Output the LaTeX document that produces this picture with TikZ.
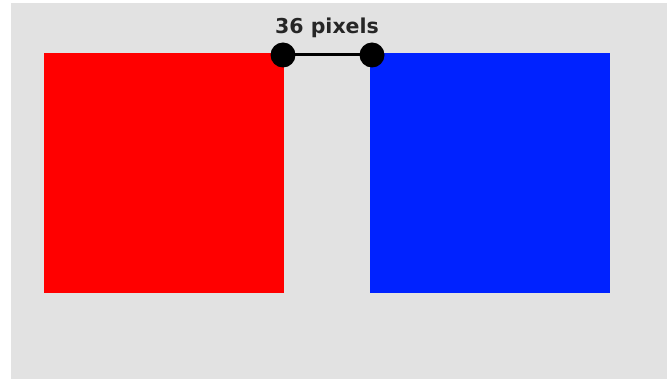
\documentclass[tikz,border=0pt]{standalone}
\usepackage{fontspec}
\setmainfont{DejaVu Sans}
\definecolor{bggray}{HTML}{E2E2E2}
\definecolor{sqred}{HTML}{FF0000}
\definecolor{sqblue}{HTML}{0022FF}
\tikzset{
  sq/.style={draw=none, minimum width=240pt, minimum height=240pt, inner sep=0pt, anchor=north west},
  dot/.style={circle, fill=black, minimum size=25pt, inner sep=0pt},
  measure/.style={line width=3pt, black},
  lbl/.style={font=\bfseries\fontsize{20.5pt}{24pt}\selectfont, text=black!85, inner sep=0pt}
}
\begin{document}
\begin{tikzpicture}[x=1pt,y=-1pt]
  \useasboundingbox (0,0) rectangle (667,379);
  \fill[white] (0,0) rectangle (667,379);
  \fill[bggray] (11,3) rectangle (667,379);
  \node[sq, fill=sqred] (red) at (44,53) {};
  \node[sq, fill=sqblue] (blue) at (370,53) {};
  \node[dot] (d1) at (283,55) {};
  \node[dot] (d2) at (372,55) {};
  \draw[measure] (d1.center) -- (d2.center);
  \node[lbl] (t) at (327,27.5) {36 pixels};
\end{tikzpicture}
\end{document}
